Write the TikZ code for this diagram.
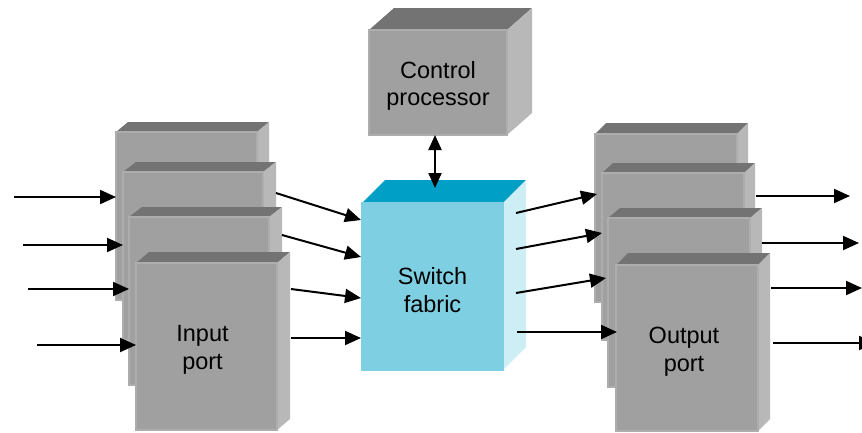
\documentclass[tikz,border=0pt]{standalone}
\usepackage{fontspec}
\setmainfont{Liberation Sans}
\usetikzlibrary{arrows.meta}
\definecolor{gfront}{HTML}{A0A0A0}
\definecolor{gtop}{HTML}{737373}
\definecolor{gside}{HTML}{B8B8B8}
\definecolor{gedge}{HTML}{ADADAD}
\definecolor{cfront}{HTML}{7FCFE2}
\definecolor{ctop}{HTML}{00A0C6}
\definecolor{cside}{HTML}{CDEEF5}
\definecolor{cedge}{HTML}{7FCFE2}
% name, left, top, right, bottom, dx, dy, colour prefix, text
\newcommand\mycube[9]{%
  \fill[#8top] (#2,#3) -- (#4,#3) -- ({#4+#6},{#3-#7}) -- ({#2+#6},{#3-#7}) -- cycle;
  \fill[#8side] (#4,#3) -- ({#4+#6},{#3-#7}) -- ({#4+#6},{#5-#7}) -- (#4,#5) -- cycle;
  \node[box, fill=#8front, draw=#8edge, minimum width={(#4-#2)*1pt}, minimum height={(#5-#3)*1pt}] (#1) at ({(#2+#4)/2},{(#3+#5)/2}) {};
  \node[boxtext] (#1-t) at ([yshift=-3.5pt]#1.center) {#9};
}
\begin{document}
\begin{tikzpicture}[x=1pt,y=-1pt,
  box/.style={rectangle, inner sep=0pt, outer sep=0pt, line width=1.2pt},
  boxtext/.style={inner sep=0pt, align=center, font=\fontsize{23.5}{27.5}\selectfont, text=black},
  arr/.style={line width=2pt, -{Triangle[length=16pt,width=14pt]}},
  arrboth/.style={line width=2pt, {Triangle[length=15pt,width=13pt]}-{Triangle[length=15pt,width=13pt]}}]
\useasboundingbox (0,0) rectangle (862,432);
% control processor
\mycube{cp}{369}{30}{507}{135}{25}{22}{g}{Control\\processor}
% switch fabric
\mycube{sw}{362}{203}{503}{370}{23}{23}{c}{Switch\\fabric}
% input ports
\mycube{ip1}{116}{132}{257}{300}{12}{10}{g}{}
\mycube{ip2}{123}{172}{263}{340}{13}{10}{g}{}
\mycube{ip3}{129}{217}{269}{385}{13}{10}{g}{}
\mycube{ip4}{136}{263}{277}{430}{13}{11}{g}{\hspace*{-8pt}Input\\\hspace*{-8pt}port}
% output ports
\mycube{op1}{595}{134}{737}{302}{11}{11}{g}{}
\mycube{op2}{602}{173}{744}{340}{11}{10}{g}{}
\mycube{op3}{608}{218}{750}{387}{12}{10}{g}{}
\mycube{op4}{616}{265}{758}{431}{12}{12}{g}{\hspace*{-6pt}Output\\\hspace*{-6pt}port}
% connector ends
\coordinate (i1) at (14,197);
\coordinate (i2) at (23,245);
\coordinate (i3) at (28,289);
\coordinate (i4) at (37,345);
\coordinate (m1s) at (276,193); \coordinate (m1e) at (361,220);
\coordinate (m2s) at (282,235); \coordinate (m2e) at (361,257);
\coordinate (m3s) at (291,289); \coordinate (m3e) at (361,298);
\coordinate (m4s) at (291,338); \coordinate (m4e) at (361,338);
\coordinate (n1s) at (516,213); \coordinate (n1e) at (597,194);
\coordinate (n2s) at (516,249); \coordinate (n2e) at (602,233);
\coordinate (n3s) at (516,293); \coordinate (n3e) at (606,278);
\coordinate (n4s) at (517,332); \coordinate (n4e) at (617,332);
\coordinate (o1s) at (756,196); \coordinate (o1e) at (850,196);
\coordinate (o2s) at (762,243); \coordinate (o2e) at (859,243);
\coordinate (o3s) at (771,288); \coordinate (o3e) at (862,288);
\coordinate (o4s) at (773,343); \coordinate (o4e) at (875,343);
\coordinate (cpb) at (435,135);
\coordinate (swt) at (435,188);
% connectors
\draw[arr] (i1) -- (i1 -| ip1.west);
\draw[arr] (i2) -- (i2 -| ip2.west);
\draw[arr] (i3) -- (i3 -| ip3.west);
\draw[arr] (i4) -- (i4 -| ip4.west);
\draw[arr] (m1s) -- (m1e);
\draw[arr] (m2s) -- (m2e);
\draw[arr] (m3s) -- (m3e);
\draw[arr] (m4s) -- (m4e);
\draw[arr] (n1s) -- (n1e);
\draw[arr] (n2s) -- (n2e);
\draw[arr] (n3s) -- (n3e);
\draw[arr] (n4s) -- (n4e);
\draw[arr] (o1s) -- (o1e);
\draw[arr] (o2s) -- (o2e);
\draw[arr] (o3s) -- (o3e);
\draw[arr] (o4s) -- (o4e);
\draw[arrboth] (cpb) -- (swt);
\end{tikzpicture}
\end{document}
